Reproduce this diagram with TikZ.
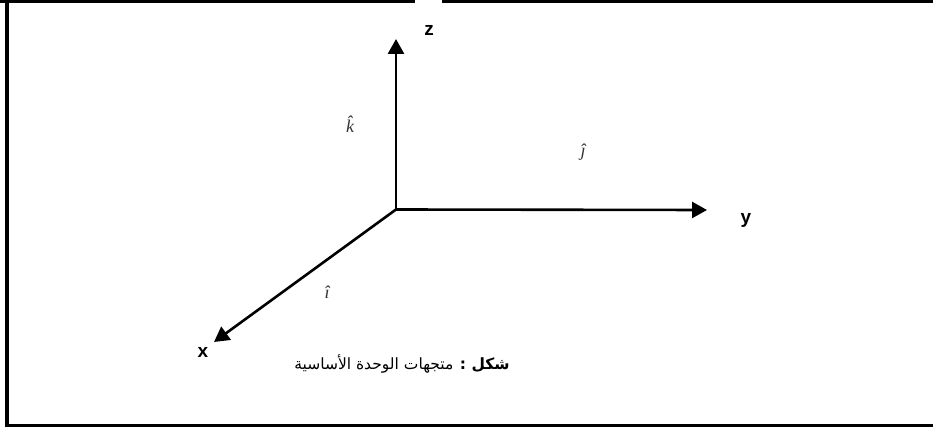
\documentclass[tikz,border=0pt]{standalone}
\usepackage{fontspec}
\setmainfont{Liberation Sans}
\newfontfamily\arabicfont[Script=Arabic]{DejaVu Sans}
\newfontfamily\timesfont{Liberation Serif}
\TeXXeTstate=1
\usetikzlibrary{arrows.meta}
\begin{document}
\begin{tikzpicture}[x=1pt,y=-1pt,
  axis/.style={line width=2.6pt,-{Triangle[length=15pt,width=16pt]}},
  axlabel/.style={font=\fontsize{19}{19}\selectfont\bfseries},
  unitlabel/.style={font=\fontsize{18}{18}\selectfont\timesfont\itshape, text=black!80},
  frameline/.style={line width=3.5pt}]
\useasboundingbox (0,0) rectangle (933,427);
% frame
\coordinate (tl) at (0,1.5);
\coordinate (tr) at (933,1.5);
\coordinate (ga) at (415,1.5);
\coordinate (gb) at (442,1.5);
\coordinate (lt) at (7,0);
\coordinate (lb) at (7,427);
\coordinate (bl) at (5,425.5);
\coordinate (br) at (933,425.5);
\draw[frameline] (tl) -- (ga);
\draw[frameline] (gb) -- (tr);
\draw[line width=4pt] (lt) -- (lb);
\draw[frameline] (bl) -- (br);
% axes
\coordinate (o) at (396,209.5);
\coordinate (zt) at (396,39);
\coordinate (yt) at (707,210);
\coordinate (xt) at (214,342);
\draw[axis] (o) -- (zt);
\draw[axis] (o) -- (yt);
\draw[axis] (o) -- (xt);
\node[axlabel] (zl) at (429,30) {z};
\node[axlabel] (yl) at (746,220) {y};
\node[axlabel] (xl) at (203,352) {x};
\node[unitlabel] (kh) at (350,124) {\^k};
\node[unitlabel] (jh) at (583,152) {\^{\j}};
\node[unitlabel] (ih) at (327,292) {\^{\i}};
\node[font=\fontsize{15.5}{15.5}\selectfont] (cap) at (402,364) {\arabicfont\beginR{\bfseries شكل :} متجهات الوحدة الأساسية\endR};
\end{tikzpicture}
\end{document}
